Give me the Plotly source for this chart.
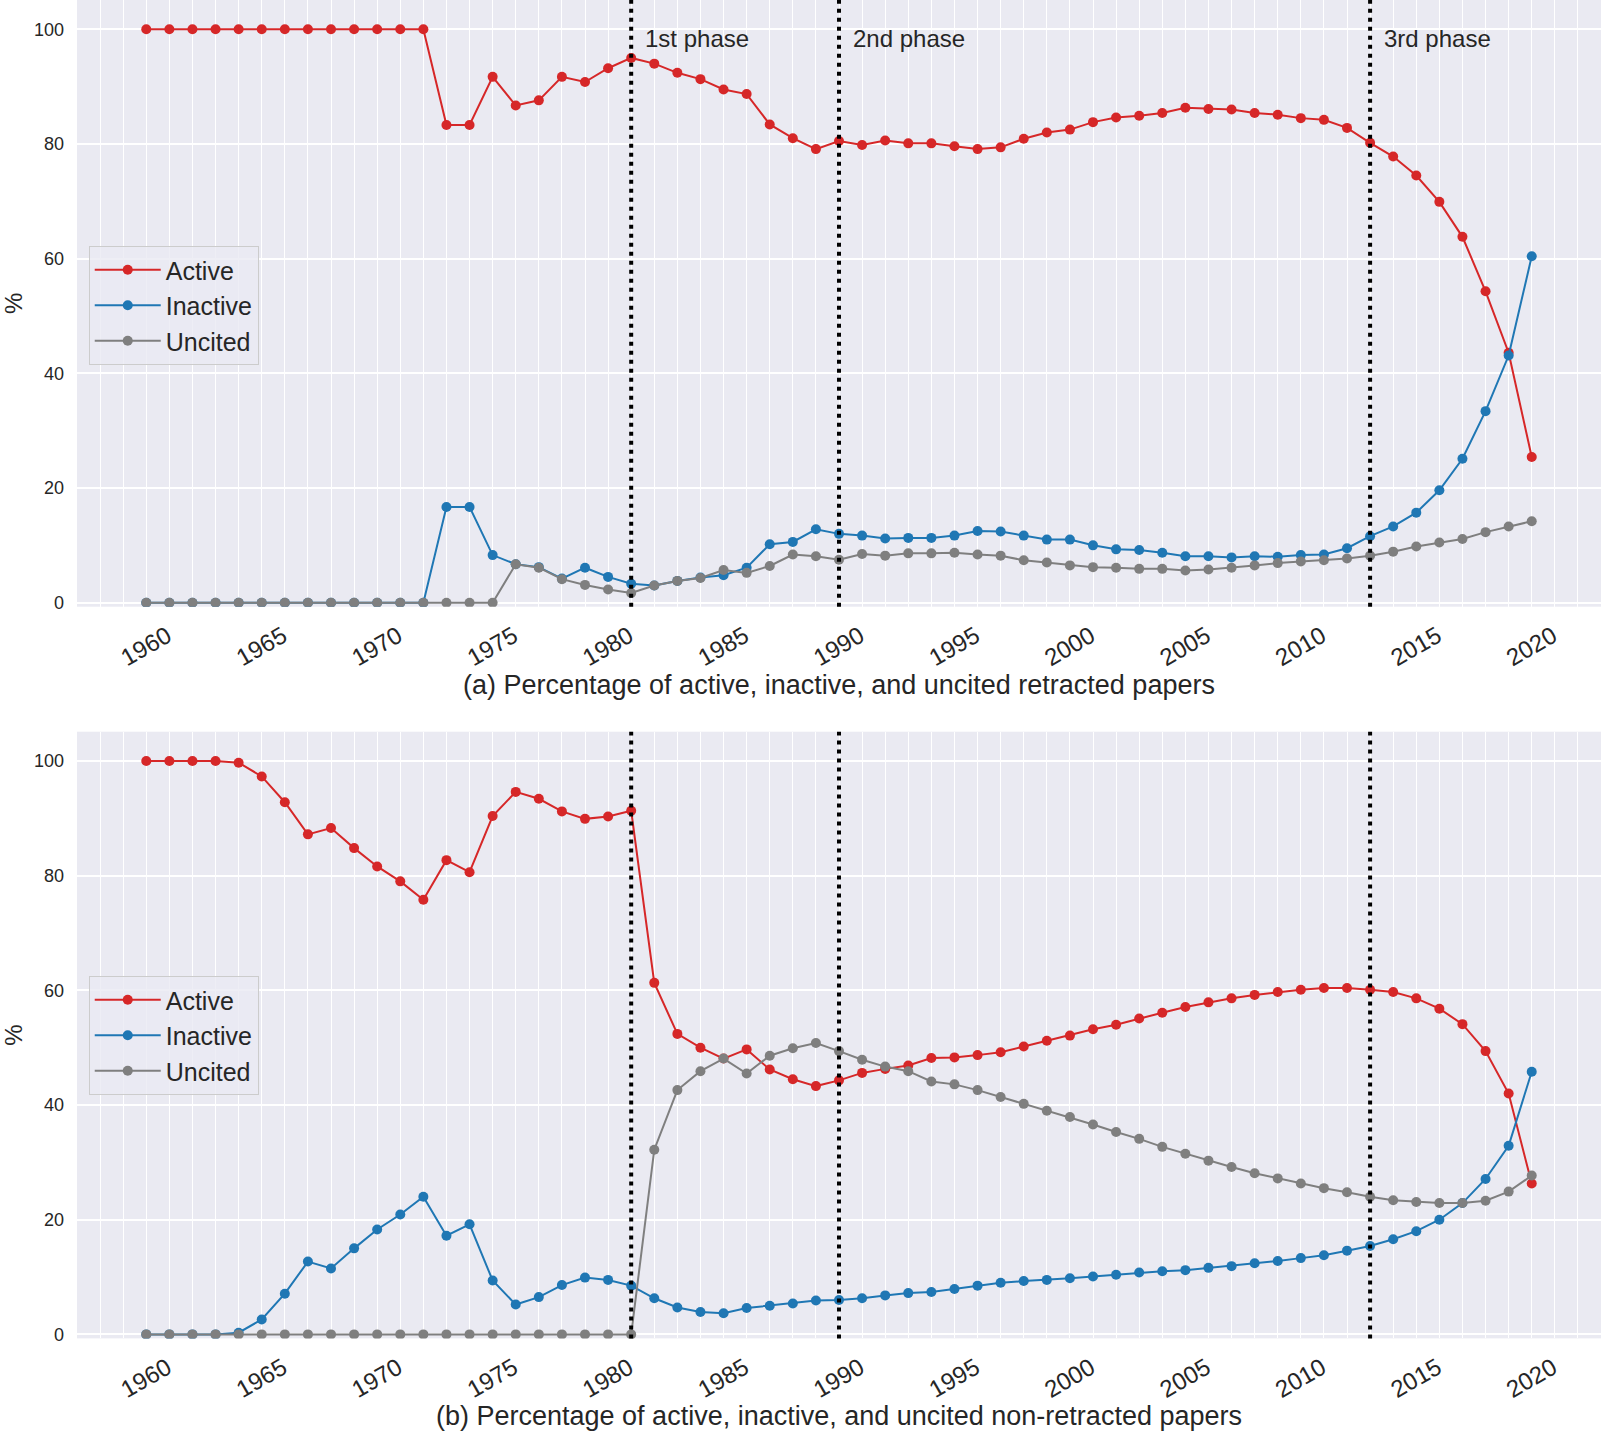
import plotly.graph_objects as go

years = list(range(1960, 2021))

# (a) retracted papers
active_a = [100]*13 + [83.3, 83.3, 91.7, 86.7, 87.6, 91.7, 90.8, 93.2, 95.0, 94.0,
                       92.4, 91.3, 89.5, 88.7, 83.4, 81.0, 79.1, 80.5, 79.8, 80.6,
                       80.1, 80.1, 79.6, 79.1, 79.4, 80.9, 82.0, 82.5, 83.8, 84.6,
                       84.9, 85.4, 86.3, 86.1, 86.0, 85.4, 85.1, 84.5, 84.2, 82.8,
                       80.2, 77.8, 74.5, 69.9, 63.8, 54.3, 43.6, 25.4]
inactive_a = [0]*13 + [16.7, 16.7, 8.3, 6.7, 6.2, 4.2, 6.1, 4.5, 3.3, 3.0,
                       3.8, 4.4, 4.8, 6.1, 10.2, 10.6, 12.8, 12.0, 11.7, 11.2,
                       11.3, 11.3, 11.7, 12.5, 12.4, 11.7, 11.0, 11.0, 10.0, 9.3,
                       9.2, 8.7, 8.1, 8.1, 7.9, 8.1, 8.0, 8.3, 8.4, 9.5,
                       11.6, 13.3, 15.7, 19.6, 25.1, 33.4, 43.1, 60.4]
uncited_a = [0]*16 + [6.7, 6.1, 4.1, 3.1, 2.3, 1.7, 3.0, 3.8, 4.3, 5.7,
                      5.2, 6.4, 8.4, 8.1, 7.5, 8.5, 8.2, 8.6, 8.6, 8.7,
                      8.4, 8.2, 7.4, 7.0, 6.5, 6.2, 6.1, 5.9, 5.9, 5.6,
                      5.8, 6.1, 6.5, 6.9, 7.2, 7.4, 7.7, 8.2, 8.9, 9.8,
                      10.5, 11.1, 12.3, 13.3, 14.2]

# (b) non-retracted papers
active_b = [100, 100, 100, 100, 99.7, 97.3, 92.8, 87.2, 88.3, 84.8,
            81.6, 79.0, 75.8, 82.7, 80.6, 90.4, 94.6, 93.4, 91.2, 89.9,
            90.3, 91.3, 61.3, 52.4, 50.0, 48.1, 49.7, 46.2, 44.5, 43.3,
            44.3, 45.6, 46.3, 46.9, 48.2, 48.3, 48.7, 49.2, 50.2, 51.2,
            52.1, 53.2, 54.0, 55.1, 56.1, 57.1, 57.9, 58.6, 59.2, 59.7,
            60.1, 60.4, 60.4, 60.1, 59.7, 58.6, 56.8, 54.1, 49.4, 42.0, 26.3]
inactive_b = [0, 0, 0, 0, 0.3, 2.6, 7.1, 12.7, 11.5, 15.0,
              18.3, 20.9, 24.0, 17.2, 19.2, 9.4, 5.2, 6.5, 8.6, 9.9,
              9.5, 8.5, 6.3, 4.7, 3.9, 3.7, 4.6, 5.0, 5.4, 5.9,
              6.0, 6.3, 6.8, 7.2, 7.4, 7.9, 8.5, 9.0, 9.3, 9.5,
              9.8, 10.1, 10.4, 10.8, 11.0, 11.2, 11.6, 11.9, 12.4, 12.8,
              13.3, 13.8, 14.6, 15.4, 16.6, 18.0, 20.0, 22.9, 27.1, 32.9, 45.8]
uncited_b = [0]*22 + [32.2, 42.6, 45.9, 48.1, 45.5, 48.6, 49.9, 50.8, 49.4, 47.9,
                      46.7, 45.9, 44.1, 43.6, 42.6, 41.4, 40.2, 39.0, 37.9, 36.6,
                      35.3, 34.1, 32.7, 31.5, 30.3, 29.2, 28.1, 27.2, 26.3, 25.5,
                      24.8, 24.0, 23.4, 23.1, 22.9, 22.9, 23.3, 24.9, 27.7]

series_names = ["Active", "Inactive", "Uncited"]
colors = ["#d62728", "#1f77b4", "#7f7f7f"]
phase_years = [1981, 1990, 2013]
phase_labels = ["1st phase", "2nd phase", "3rd phase"]
captions = ["(a) Percentage of active, inactive, and uncited retracted papers",
            "(b) Percentage of active, inactive, and uncited non-retracted papers"]
x_ticks = list(range(1960, 2021, 5))
y_ticks = [0, 20, 40, 60, 80, 100]

FONT = "Liberation Sans, Arial, sans-serif"
TXT = "#262626"
BG = "#EAEAF2"

fig = go.Figure()
panels = [(active_a, inactive_a, uncited_a), (active_b, inactive_b, uncited_b)]
for p, data in enumerate(panels):
    xa = "x" if p == 0 else "x2"
    ya = "y" if p == 0 else "y2"
    lg = "legend" if p == 0 else "legend2"
    for name, vals, col in zip(series_names, data, colors):
        fig.add_trace(go.Scatter(
            x=years, y=vals, name=name, mode="lines+markers",
            line=dict(color=col, width=2), marker=dict(color=col, size=10),
            xaxis=xa, yaxis=ya, legend=lg, legendgroup=f"{p}{name}"))

H = 1431.0
dom_a = [1 - 606.7 / H, 1.0]
dom_b = [1 - 1338.4 / H, 1 - 731.7 / H]

xcommon = dict(range=[1957, 2023], tickmode="array", tickvals=x_ticks,
               ticktext=[str(t) for t in x_ticks], tickangle=-30,
               tickfont=dict(size=24, color=TXT, family=FONT),
               showgrid=True, gridcolor="white", gridwidth=1.3,
               minor=dict(dtick=1, tick0=1960, showgrid=True, gridcolor="white", gridwidth=1.1),
               zeroline=False, showline=False, ticks="", ticklabelshift=21,
               ticklabelstandoff=10, automargin=False)
ycommon = dict(range=[-0.7, 105.1], tickmode="array", tickvals=y_ticks,
               tickfont=dict(size=18, color=TXT, family=FONT),
               showgrid=True, gridcolor="white", gridwidth=1.6,
               zeroline=False, showline=False, ticks="", ticklabelstandoff=12,
               automargin=False,
               title=dict(text="%", font=dict(size=24, color=TXT, family=FONT), standoff=18))

legcommon = dict(x=0.0077, xanchor="left", yanchor="top",
                 bgcolor="rgba(234,234,242,0.8)", bordercolor="#cccccc", borderwidth=1,
                 font=dict(size=25, color=TXT, family=FONT), tracegroupgap=0,
                 itemwidth=66)

fig.update_layout(
    width=1603, height=1431,
    margin=dict(l=77, r=2, t=0, b=0, autoexpand=False),
    paper_bgcolor="white", plot_bgcolor=BG,
    font=dict(family=FONT, color=TXT),
    xaxis=dict(domain=[0, 1], anchor="y", **xcommon),
    yaxis=dict(domain=dom_a, anchor="x", **ycommon),
    xaxis2=dict(domain=[0, 1], anchor="y2", **xcommon),
    yaxis2=dict(domain=dom_b, anchor="x2", **ycommon),
    legend=dict(y=1 - 246 / H, **legcommon),
    legend2=dict(y=1 - 976 / H, **legcommon),
    showlegend=True,
)

shapes = []
for yref in ["y domain", "y2 domain"]:
    xr = "x" if yref == "y domain" else "x2"
    for py in phase_years:
        shapes.append(dict(type="line", xref=xr, yref=yref, x0=py, x1=py, y0=0, y1=1,
                           line=dict(color="black", width=4, dash="4px,5px"), layer="above"))
fig.update_layout(shapes=shapes)

annotations = []
for py, lab in zip(phase_years, phase_labels):
    annotations.append(dict(x=py + 0.5, y=98.3, xref="x", yref="y", text=lab,
                            showarrow=False, xanchor="left", yanchor="middle",
                            font=dict(size=24, color=TXT, family=FONT)))
for cap, yy in zip(captions, [1 - 685 / H, 1 - 1416 / H]):
    annotations.append(dict(x=0.5, y=yy, xref="paper", yref="paper", text=cap,
                            showarrow=False, xanchor="center", yanchor="middle",
                            font=dict(size=27, color=TXT, family=FONT)))
fig.update_layout(annotations=annotations)

fig.write_html("out.html", config={"displayModeBar": False},
               post_script="document.body.style.margin='0';document.body.style.overflow='hidden';")
